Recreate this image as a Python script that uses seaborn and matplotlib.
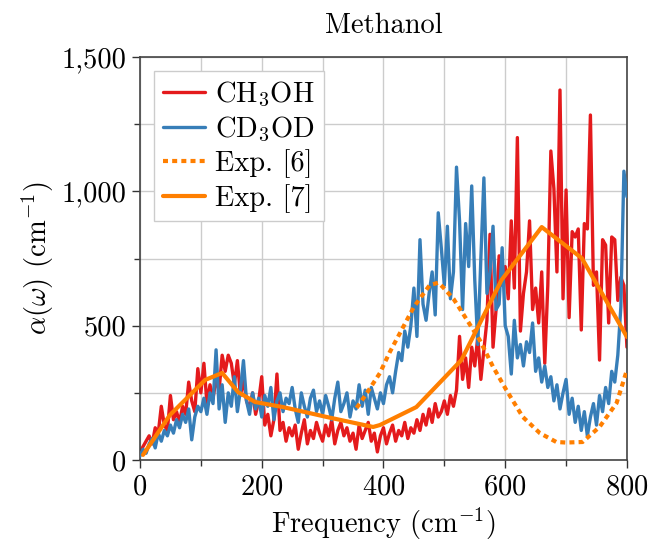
import numpy as np
import pandas as pd
import matplotlib
matplotlib.use("Agg")
import matplotlib.pyplot as plt
import seaborn as sns
from matplotlib.ticker import MultipleLocator, FuncFormatter

# frequency grid of the simulated spectra (cm^-1)
freq = np.arange(0, 805, 5)

# CH3OH absorption
ch3oh = [30, 50, 70, 90, 60, 120, 100, 200, 130, 110,
         240, 150, 180, 140, 200, 170, 290, 220, 180, 340,
         250, 360, 210, 280, 230, 300, 260, 390, 330, 390,
         360, 280, 370, 240, 300, 220, 190, 250, 170, 220,
         310, 130, 170, 90, 150, 320, 110, 140, 70, 120,
         90, 130, 40, 100, 150, 60, 110, 80, 140, 100,
         70, 130, 90, 150, 60, 110, 140, 90, 120, 70,
         100, 40, 130, 80, 110, 140, 70, 100, 30, 90,
         120, 60, 100, 130, 70, 110, 90, 140, 80, 120,
         100, 150, 110, 170, 130, 190, 140, 210, 160, 180,
         220, 170, 240, 200, 260, 460, 300, 380, 270, 420,
         350, 460, 300, 410, 520, 840, 420, 560, 760, 650,
         720, 600, 890, 640, 1200, 480, 620, 700, 890, 560,
         640, 510, 700, 360, 650, 1150, 1010, 700, 1377, 600,
         1005, 530, 850, 830, 860, 484, 880, 860, 1284, 650,
         700, 372, 820, 800, 510, 830, 820, 594, 680, 650,
         420]

# CD3OD absorption
cd3od = [15, 40, 25, 60, 80, 45, 100, 70, 110, 90,
         130, 100, 150, 120, 170, 140, 190, 75, 160, 200,
         180, 230, 170, 250, 210, 410, 190, 280, 140, 250,
         200, 310, 180, 260, 370, 220, 170, 250, 190, 230,
         160, 240, 200, 270, 150, 220, 250, 180, 230, 210,
         270, 190, 140, 250, 200, 160, 230, 260, 180, 220,
         170, 240, 200, 150, 230, 290, 180, 210, 250, 160,
         220, 190, 280, 200, 260, 170, 270, 230, 190, 250,
         210, 280, 310, 250, 330, 400, 370, 480, 420, 500,
         640, 460, 820, 580, 520, 620, 700, 540, 920, 790,
         650, 870, 600, 700, 1090, 890, 560, 880, 720, 1020,
         670, 430, 750, 1050, 620, 700, 870, 560, 580, 790,
         500, 460, 320, 520, 380, 430, 350, 440, 400, 510,
         330, 380, 290, 350, 270, 310, 220, 280, 190, 250,
         300, 170, 230, 140, 200, 110, 180, 90, 160, 210,
         130, 240, 180, 270, 210, 330, 290, 390, 570, 1075,
         980]

# experiment [6]
exp6_freq = [356, 370, 394, 410, 427, 450, 476, 490, 497, 515, 530, 558,
             580, 602, 629, 657, 684, 700, 727, 755, 783, 800]
exp6_val = [194, 240, 323, 400, 472, 570, 651, 660, 645, 600, 547, 447,
            347, 260, 160, 100, 67, 65, 67, 123, 212, 335]

# experiment [7]
exp7_freq = [5, 49, 107, 135, 161, 189, 235, 307, 383, 394, 454, 528,
             594, 660, 726, 800]
exp7_val = [19, 167, 298, 324, 253, 216, 197, 160, 123, 130, 197, 372,
            670, 867, 751, 458]

pal = sns.color_palette("Set1")
RED, BLUE, ORANGE = pal[0], pal[1], pal[4]

sns.set_theme(style="whitegrid")
plt.rcParams['font.family'] = ['cmr10', 'DejaVu Serif']
plt.rcParams['mathtext.fontset'] = 'cm'
plt.rcParams['axes.formatter.use_mathtext'] = True
plt.rcParams['axes.unicode_minus'] = False
plt.rcParams['text.color'] = 'black'
plt.rcParams['axes.labelcolor'] = 'black'
plt.rcParams['xtick.color'] = 'black'
plt.rcParams['ytick.color'] = 'black'

FS = 20.5

df_sim = pd.DataFrame({"freq": freq, "ch3oh": ch3oh, "cd3od": cd3od})
df6 = pd.DataFrame({"freq": exp6_freq, "val": exp6_val})
df7 = pd.DataFrame({"freq": exp7_freq, "val": exp7_val})

fig = plt.figure(figsize=(6.49, 5.46), dpi=100)
ax = fig.add_axes([0.2157, 0.1575, 0.7503, 0.7381])

sns.lineplot(x="freq", y="ch3oh", data=df_sim, color=RED, lw=2.4, label="CH$_3$OH",
             estimator=None, sort=False, ax=ax, zorder=2)
sns.lineplot(x="freq", y="cd3od", data=df_sim, color=BLUE, lw=2.4, label="CD$_3$OD",
             estimator=None, sort=False, ax=ax, zorder=3)
sns.lineplot(x="freq", y="val", data=df6, color=ORANGE, lw=3.0, label="Exp. [6]",
             estimator=None, sort=False, ax=ax, zorder=4)
ax.lines[-1].set_dashes((1.2, 1.0))
sns.lineplot(x="freq", y="val", data=df7, color=ORANGE, lw=3.0, label="Exp. [7]",
             estimator=None, sort=False, ax=ax, zorder=5)

ax.set_xlim(0, 800)
ax.set_ylim(0, 1500)
ax.xaxis.set_major_locator(MultipleLocator(200))
ax.xaxis.set_minor_locator(MultipleLocator(100))
ax.yaxis.set_major_locator(MultipleLocator(500))
ax.yaxis.set_minor_locator(MultipleLocator(250))
ax.yaxis.set_major_formatter(FuncFormatter(lambda v, p: "{:,.0f}".format(v)))

ax.grid(True, which="both", color="#cccccc", lw=1.0)
ax.tick_params(which="major", direction="out", length=6, width=1.0, color="#333333",
               labelsize=FS, bottom=True, left=True, pad=4)
ax.tick_params(which="minor", direction="out", length=4, width=1.0, color="#333333",
               bottom=True, left=True)
for s in ax.spines.values():
    s.set_color("#444444")
    s.set_linewidth(1.2)

ax.set_xlabel("Frequency (cm$^{-1}$)", fontsize=FS)
ax.set_ylabel(r"$\alpha(\omega)$ (cm$^{-1}$)", fontsize=FS)
ax.set_title("Methanol", fontsize=FS, pad=17)

leg = ax.legend(loc="upper left", fontsize=FS, frameon=True, fancybox=False,
                borderpad=0.3, labelspacing=0.2, handlelength=1.5, handletextpad=0.35,
                borderaxespad=0.5)
leg.get_frame().set_edgecolor("#cccccc")
leg.get_frame().set_alpha(1)

fig.savefig("out.png", dpi=100)
